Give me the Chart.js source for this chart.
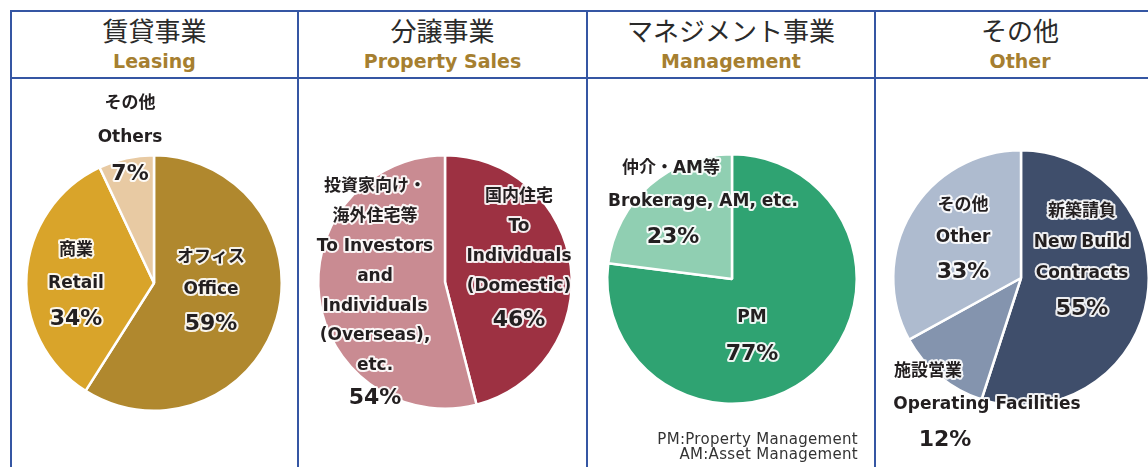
<!DOCTYPE html>
<html>
<head>
<meta charset="utf-8">
<script src="https://cdn.jsdelivr.net/npm/chart.js@4"></script>
<style>
  html, body { margin: 0; padding: 0; background: #fff; }
  body { width: 1148px; height: 467px; overflow: hidden; position: relative; font-family: "DejaVu Sans", "Noto Sans CJK JP", sans-serif; }
  .line { position: absolute; background: #3556a3; }
  .head { position: absolute; top: 12px; height: 66px; text-align: center; }
  .jp { font-family: "Noto Sans CJK JP", sans-serif; font-size: 26px; color: #2a2a2a; line-height: 34px; margin-top: 1px; }
  .en { font-size: 19px; font-weight: bold; color: #a67f30; line-height: 26px; margin-top: 1px; }
  canvas { position: absolute; left: 0; top: 0; }
  .note { position: absolute; right: 290px; top: 432px; font-size: 15px; line-height: 15px; color: #333; text-align: right; letter-spacing: 0.3px; }
</style>
</head>
<body>
<div class="line" style="left:10px; top:10px; width:1160px; height:2px;"></div>
<div class="line" style="left:10px; top:77px; width:1160px; height:2px;"></div>
<div class="line" style="left:10px; top:10px; width:2px; height:460px;"></div>
<div class="line" style="left:297px; top:10px; width:2px; height:460px;"></div>
<div class="line" style="left:586px; top:10px; width:2px; height:460px;"></div>
<div class="line" style="left:874px; top:10px; width:2px; height:460px;"></div>

<div class="head" style="left:12px; width:285px;"><div class="jp">賃貸事業</div><div class="en">Leasing</div></div>
<div class="head" style="left:299px; width:287px;"><div class="jp">分譲事業</div><div class="en">Property Sales</div></div>
<div class="head" style="left:588px; width:286px;"><div class="jp">マネジメント事業</div><div class="en">Management</div></div>
<div class="head" style="left:876px; width:288px;"><div class="jp">その他</div><div class="en">Other</div></div>

<canvas id="c1" width="1170" height="467"></canvas>
<canvas id="c2" width="1170" height="467"></canvas>
<canvas id="c3" width="1170" height="467"></canvas>
<canvas id="c4" width="1170" height="467"></canvas>

<div class="note">PM:Property Management<br>AM:Asset Management</div>

<script>
const leasingNames = [['オフィス', 'Office'], ['商業', 'Retail'], ['その他', 'Others']];
const leasingValues = [59, 34, 7];

const salesNames = [['国内住宅', 'To', 'Individuals', '(Domestic)'],
  ['投資家向け・', '海外住宅等', 'To Investors', 'and', 'Individuals', '(Overseas),', 'etc.']];
const salesValues = [46, 54];

const mgmtNames = [['PM'], ['仲介・AM等', 'Brokerage, AM, etc.']];
const mgmtValues = [77, 23];

const otherNames = [['新築請負', 'New Build', 'Contracts'], ['施設営業', 'Operating Facilities'], ['その他', 'Other']];
const otherValues = [55, 12, 33];

const W = 1170, H = 467;

// label block placement relative to the pie centre
const labelPlugin = {
  id: 'segLabels',
  afterDatasetsDraw(chart) {
    const opts = chart.options.plugins.segLabels;
    const meta = chart.getDatasetMeta(0);
    const values = chart.data.datasets[0].data;
    const ctx = chart.ctx;
    ctx.save();
    ctx.textAlign = 'center';
    ctx.textBaseline = 'middle';
    ctx.lineJoin = 'round';
    meta.data.forEach((arc, i) => {
      const s = opts.spots[i];
      const lines = opts.names[i].concat([values[i] + '%']);
      lines.forEach((t, j) => {
        const pct = j === lines.length - 1;
        const x = arc.x + (s.xs ? s.xs[j] : s.dx);
        const y = arc.y + s.dy + j * s.gap + (pct ? (s.extra || 2) : 0);
        ctx.font = pct ? 'bold 22px "DejaVu Sans", "Noto Sans CJK JP"'
                       : 'bold 17px "DejaVu Sans", "Noto Sans CJK JP"';
        ctx.strokeStyle = 'rgba(255,255,255,0.9)';
        ctx.lineWidth = 4;
        ctx.strokeText(t, x, y);
        ctx.fillStyle = '#231f20';
        ctx.fillText(t, x, y);
      });
    });
    ctx.restore();
  }
};

function makePie(id, values, names, colors, cx, cy, r, spots) {
  new Chart(document.getElementById(id), {
    type: 'pie',
    data: {
      labels: names.map(n => n.join(' ')),
      datasets: [{
        data: values,
        backgroundColor: colors,
        borderColor: '#fff',
        borderWidth: 2.5
      }]
    },
    options: {
      responsive: false,
      animation: false,
      layout: { padding: { left: cx - r, right: W - cx - r, top: cy - r, bottom: H - cy - r } },
      plugins: {
        legend: { display: false },
        tooltip: { enabled: false },
        segLabels: { names: names, spots: spots }
      }
    },
    plugins: [labelPlugin]
  });
}

makePie('c1', leasingValues, leasingNames, ['#b0882e', '#d9a42a', '#e8caa3'], 154, 283, 129, [
  { dx: 57, dy: -25, gap: 32 },
  { dx: -78, dy: -32, gap: 33 },
  { dx: -24, dy: -179, gap: 34 }
]);

makePie('c2', salesValues, salesNames, ['#9d3142', '#c98b92'], 445, 282, 128, [
  { dx: 74, dy: -85, gap: 30, extra: 3 },
  { dx: -70, dy: -95, gap: 29.8, extra: 3 }
]);

makePie('c3', mgmtValues, mgmtNames, ['#2fa372', '#90cfb2'], 732, 279, 126, [
  { dx: 20, dy: 39, gap: 34, extra: 0 },
  { xs: [-61, -29, -59], dy: -110, gap: 33, extra: 2 }
]);

makePie('c4', otherValues, otherNames, ['#3f4e6b', '#8494ae', '#aebbcf'], 1021, 278, 129, [
  { dx: 61, dy: -66, gap: 31, extra: 4 },
  { xs: [-93, -34, -76], dy: 94, gap: 33, extra: 0 },
  { dx: -58, dy: -72, gap: 32, extra: 2 }
]);
</script>
</body>
</html>
